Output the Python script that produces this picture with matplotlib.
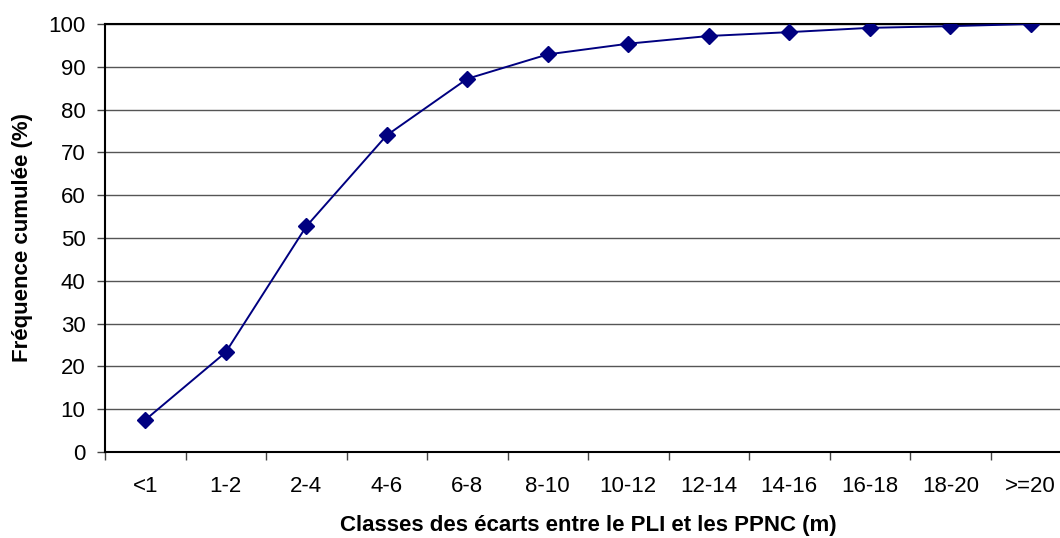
import matplotlib
matplotlib.use("Agg")
import matplotlib.pyplot as plt

categories = ["<1", "1-2", "2-4", "4-6", "6-8", "8-10", "10-12", "12-14",
              "14-16", "16-18", "18-20", ">=20"]
freq_cum = [7.5, 23.3, 52.7, 74.0, 87.2, 92.9, 95.4, 97.2, 98.1, 99.1, 99.5, 100.0]
yticks = list(range(0, 101, 10))

plt.rcParams['font.family'] = ['Liberation Sans', 'DejaVu Sans']

fig = plt.figure(figsize=(10.6, 5.38), dpi=100)
ax = fig.add_axes([105/1060, 86/538, 966/1060, 428/538])

x = list(range(len(categories)))
ax.plot(x, freq_cum, color="#000080", lw=1.4, marker="D", markersize=8.5,
        markerfacecolor="#000080", markeredgecolor="#000080", zorder=3)

ax.set_xlim(-0.5, len(categories) - 0.5)
ax.set_ylim(0, 100)
ax.set_yticks(yticks)
ax.set_xticks([i + 0.5 for i in range(-1, len(categories))], minor=False)
ax.set_xticklabels([])
ax.set_xticks(x, minor=True)
ax.set_xticklabels(categories, minor=True)
ax.tick_params(axis="x", which="minor", length=0, labelsize=16, pad=17)
ax.tick_params(axis="x", which="major", length=6, width=1, direction="out", color="#444444")
ax.tick_params(axis="y", length=6, width=1, direction="out", labelsize=16, pad=8, color="#444444")

ax.yaxis.grid(True, color="#555555", lw=1)
ax.set_axisbelow(True)
for s in ["left", "bottom", "top"]:
    ax.spines[s].set_linewidth(1.5)
    ax.spines[s].set_color("black")
ax.spines["right"].set_visible(False)

ax.set_xlabel("Classes des écarts entre le PLI et les PPNC (m)", fontsize=16, fontweight="bold", labelpad=13)
ax.set_ylabel("Fréquence cumulée (%)", fontsize=16, fontweight="bold", labelpad=11)

fig.savefig("out.png", dpi=100)
